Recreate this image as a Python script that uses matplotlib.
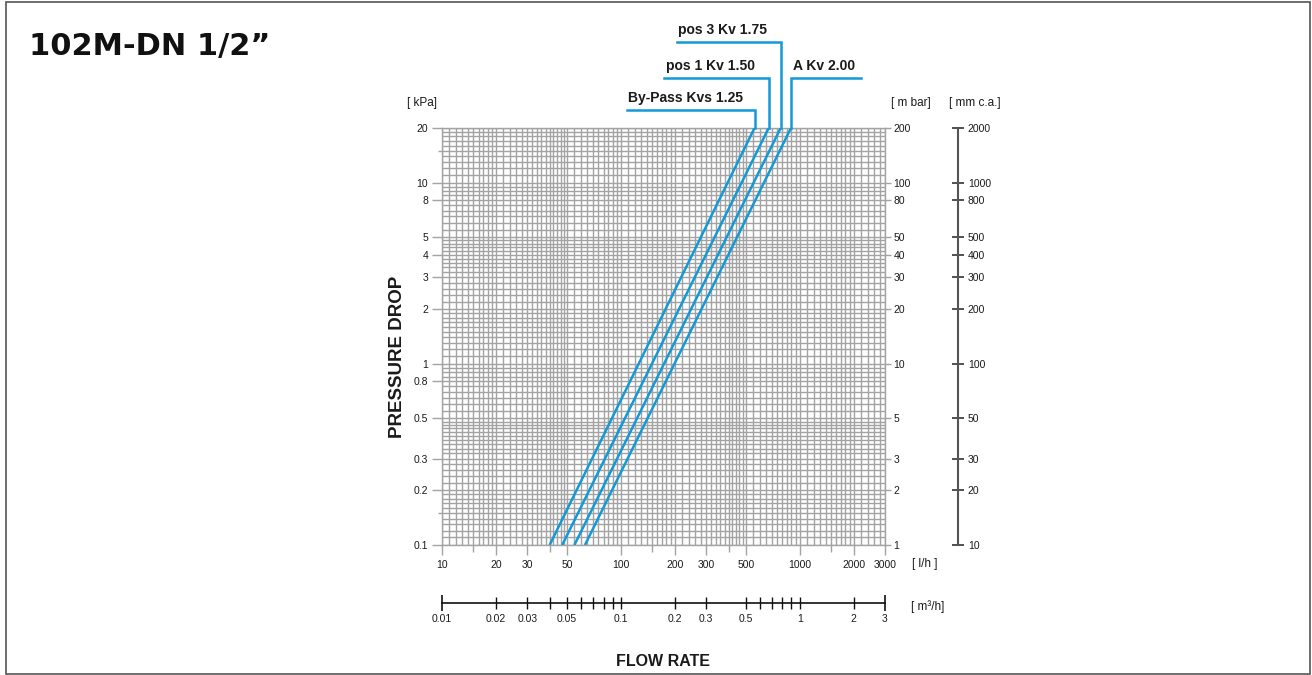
import matplotlib

matplotlib.use("Agg")

import matplotlib.pyplot as plt
import numpy as np
from matplotlib.patches import Rectangle
from matplotlib.ticker import FixedFormatter, FixedLocator, NullFormatter
from matplotlib.transforms import blended_transform_factory

W, H = 1312, 675
BLUE = "#1399d6"
GRID = "#a3a3a3"
INK = "#1a1a1a"
FONT = ["Liberation Sans", "DejaVu Sans"]

# --- data ---------------------------------------------------------------
series_labels = ["By-Pass Kvs 1.25", "pos 1 Kv 1.50", "pos 3 Kv 1.75", "A Kv 2.00"]
flow_at_min_dp = [40, 47, 55, 63]        # l/h where each line leaves 0.1 kPa
flow_at_max_dp = [559, 671, 783, 894]    # l/h where each line reaches 20 kPa
dp_limits = [0.1, 20]                    # kPa

flow_ticks = [10, 20, 30, 50, 100, 200, 300, 500, 1000, 2000, 3000]
flow_minor = [15, 40, 150, 400, 1500]
kpa_ticks = [20, 10, 8, 5, 4, 3, 2, 1, 0.8, 0.5, 0.3, 0.2, 0.1]
kpa_minor = [15, 0.15]
mbar_ticks = [200, 100, 80, 50, 40, 30, 20, 10, 5, 3, 2, 1]
mmca_ticks = [2000, 1000, 800, 500, 400, 300, 200, 100, 50, 30, 20, 10]
m3h_end_ticks = [0.01, 3]
m3h_ticks = [0.02, 0.03, 0.04, 0.05, 0.06, 0.07, 0.08, 0.09, 0.1,
             0.2, 0.3, 0.5, 0.6, 0.7, 0.8, 0.9, 1, 2]
m3h_labels = ["0.02", "0.03", "", "0.05", "", "", "", "", "0.1",
              "0.2", "0.3", "0.5", "", "", "", "", "1", "2"]

# leader geometry for the series labels (y in axes fraction, x end in l/h)
leader_y = [1.043, 1.119, 1.207, 1.119]
leader_x_end = [108, 175, 205, 2200]


def fmt(v):
    return f"{v:g}"


def px(x, y):
    """Figure pixel position (from top-left) to figure fraction."""
    return x / W, 1 - y / H


def grid_values(lo, hi):
    mant = np.concatenate([np.arange(1, 2, 0.1), np.arange(2, 5, 0.2), np.arange(5, 10, 0.5)])
    vals = []
    for e in range(-2, 5):
        for m in mant:
            v = m * 10.0 ** e
            if lo * 0.999 <= v <= hi * 1.001:
                vals.append(v)
    return vals


plt.rcParams["font.family"] = FONT
fig = plt.figure(figsize=(W / 100, H / 100), dpi=100)

left, right, top, bottom = 442, 885, 128, 545
ax = fig.add_axes([left / W, 1 - bottom / H, (right - left) / W, (bottom - top) / H])
ax.set_xscale("log")
ax.set_yscale("log")
ax.set_xlim(10, 3000)
ax.set_ylim(0.1, 20)

ax.vlines(grid_values(10, 3000), 0.1, 20, color=GRID, lw=1.0, zorder=1)
ax.hlines(grid_values(0.1, 20), 10, 3000, color=GRID, lw=1.0, zorder=1)

for s in ax.spines.values():
    s.set_color(GRID)
    s.set_linewidth(1.0)

# left kPa scale
ax.yaxis.set_major_locator(FixedLocator(kpa_ticks))
ax.yaxis.set_major_formatter(FixedFormatter([fmt(v) for v in kpa_ticks]))
ax.yaxis.set_minor_locator(FixedLocator(kpa_minor))
ax.yaxis.set_minor_formatter(NullFormatter())
ax.tick_params(axis="y", which="major", length=7, width=1, color=GRID,
               labelsize=7.5, labelcolor=INK, pad=3)
ax.tick_params(axis="y", which="minor", length=3, width=1, color=GRID)

# bottom l/h scale
ax.xaxis.set_major_locator(FixedLocator(flow_ticks))
ax.xaxis.set_major_formatter(FixedFormatter([fmt(v) for v in flow_ticks]))
ax.xaxis.set_minor_locator(FixedLocator(flow_minor))
ax.xaxis.set_minor_formatter(NullFormatter())
ax.tick_params(axis="x", which="major", length=7, width=1, color=GRID,
               labelsize=7.5, labelcolor=INK, pad=4)
ax.tick_params(axis="x", which="minor", length=5, width=1, color=GRID)

# right mbar scale
ax2 = ax.twinx()
ax2.set_yscale("log")
ax2.set_ylim(dp_limits[0] * 10, dp_limits[1] * 10)
ax2.yaxis.set_major_locator(FixedLocator(mbar_ticks))
ax2.yaxis.set_major_formatter(FixedFormatter([fmt(v) for v in mbar_ticks]))
ax2.yaxis.set_minor_locator(FixedLocator([]))
ax2.tick_params(axis="y", length=4, width=1, color=GRID, labelsize=7.5,
                labelcolor=INK, pad=2)
for s in ax2.spines.values():
    s.set_visible(False)

# pressure drop lines
for q0, q1 in zip(flow_at_min_dp, flow_at_max_dp):
    ax.plot([q0, q1], dp_limits, color=BLUE, lw=1.8, zorder=3, solid_capstyle="butt")

# leaders and labels above the plot
tr = blended_transform_factory(ax.transData, ax.transAxes)
for name, q1, ly, lx in zip(series_labels, flow_at_max_dp, leader_y, leader_x_end):
    ax.plot([q1, q1, lx], [1.0, ly, ly], color=BLUE, lw=1.8, transform=tr,
            clip_on=False, zorder=3, solid_joinstyle="miter")
    tx = min(q1, lx)
    ax.text(tx * 1.02, ly + 0.012, name, transform=tr, ha="left", va="bottom",
            fontsize=10, fontweight="bold", color=INK)

# mm c.a. scale
ax3 = fig.add_axes([958 / W, 1 - bottom / H, 0.0001, (bottom - top) / H])
ax3.set_yscale("log")
ax3.set_ylim(10, 2000)
ax3.set_xticks([])
for k in ("top", "bottom", "right"):
    ax3.spines[k].set_visible(False)
ax3.spines["left"].set_color("#555555")
ax3.spines["left"].set_linewidth(1.5)
ax3.yaxis.set_major_locator(FixedLocator(mmca_ticks))
ax3.yaxis.set_major_formatter(FixedFormatter([fmt(v) for v in mmca_ticks]))
ax3.yaxis.set_minor_locator(FixedLocator([]))
ax3.tick_params(axis="y", direction="inout", length=8, width=1.2, color="#333333",
                left=True, right=False, labelleft=False, labelright=True,
                labelsize=7.5, labelcolor=INK, pad=3)
ax3.patch.set_visible(False)

# m3/h scale
ax4 = fig.add_axes([left / W, 1 - 603 / H, (right - left) / W, 0.0001])
ax4.set_xscale("log")
ax4.set_xlim(0.01, 3)
ax4.set_yticks([])
for k in ("top", "left", "right"):
    ax4.spines[k].set_visible(False)
ax4.spines["bottom"].set_color("#111111")
ax4.spines["bottom"].set_linewidth(1.2)
ax4.xaxis.set_major_locator(FixedLocator(m3h_end_ticks))
ax4.xaxis.set_major_formatter(FixedFormatter([fmt(v) for v in m3h_end_ticks]))
ax4.xaxis.set_minor_locator(FixedLocator(m3h_ticks))
ax4.xaxis.set_minor_formatter(FixedFormatter(m3h_labels))
ax4.tick_params(axis="x", which="major", direction="inout", length=12, width=1.2,
                color="#111111", labelsize=7.5, labelcolor=INK, pad=2)
ax4.tick_params(axis="x", which="minor", direction="inout", length=8, width=1,
                color="#111111", labelsize=7.5, labelcolor=INK, pad=4)
ax4.patch.set_visible(False)

# headers and titles
hdr = dict(fontsize=8.5, color=INK, ha="center", va="center")
fig.text(*px(422, 103), "[ kPa]", **hdr)
fig.text(*px(911, 103), "[ m bar]", **hdr)
fig.text(*px(975, 103), "[ mm c.a.]", **hdr)
fig.text(*px(925, 564), "[ l/h ]", **hdr)
fig.text(*px(928, 607), "[ m\u00b3/h]", **hdr)

fig.text(*px(397, 357), "PRESSURE DROP", rotation=90, fontsize=13.5,
         fontweight="bold", color=INK, ha="center", va="center")
fig.text(*px(663, 661), "FLOW RATE", fontsize=11.5, fontweight="bold",
         color=INK, ha="center", va="center")
fig.text(*px(29, 47), "102M-DN 1/2\u201d", fontsize=22, fontweight="bold",
         family=["DejaVu Sans"], color="#111111", ha="left", va="center")

fig.patches.append(Rectangle((6 / W, 1 / H), 1304 / W, 672 / H, transform=fig.transFigure,
                             fill=False, edgecolor="#555555", lw=1.2))

fig.savefig("out.png", dpi=100)
